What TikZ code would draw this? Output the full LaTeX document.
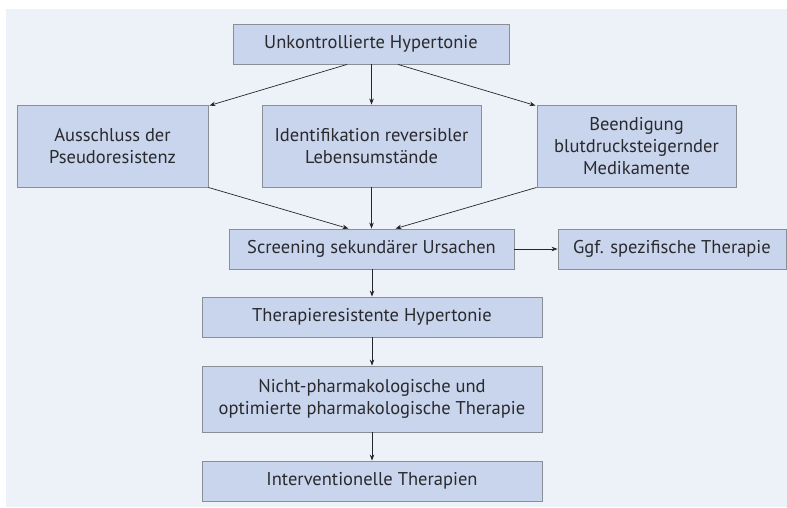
\documentclass[tikz,border=0pt]{standalone}
\usepackage{fontspec}
\setmainfont{PT Sans}
\usetikzlibrary{arrows.meta}
\definecolor{panel}{HTML}{EDF2F9}
\definecolor{boxfill}{HTML}{C8D5EC}
\definecolor{boxline}{HTML}{8A8E96}
\definecolor{txt}{HTML}{2A2A2E}
\begin{document}
\begin{tikzpicture}[x=1pt,y=-1pt,
  box/.style={draw=boxline,line width=0.9pt,fill=boxfill,inner sep=0pt,align=center,
    text=txt,font=\fontsize{18.5}{22}\selectfont},
  arr/.style={draw=black!85,line width=0.7pt,-{Stealth[length=6pt,width=4.5pt]}}]
\useasboundingbox (0,0) rectangle (787,507);
\fill[panel] (6,9) rectangle (787,507);
\node[box,minimum width=276pt,minimum height=40pt] (top) at (371,44) {Unkontrollierte Hypertonie};
\node[box,minimum width=191pt,minimum height=82pt] (aus) at (112.5,146) {Ausschluss der\\Pseudoresistenz};
\node[box,minimum width=219pt,minimum height=82pt] (ide) at (371.5,146) {Identifikation reversibler\\Lebensumstände};
\node[box,minimum width=199pt,minimum height=82pt] (bee) at (636.5,146) {Beendigung\\blutdrucksteigernder\\Medikamente};
\node[box,minimum width=285pt,minimum height=40pt] (scr) at (371.5,249) {Screening sekundärer Ursachen};
\node[box,minimum width=228pt,minimum height=40pt] (ggf) at (672,249) {Ggf. spezifische Therapie};
\node[box,minimum width=340pt,minimum height=40pt] (tre) at (372,317) {Therapieresistente Hypertonie};
\node[box,minimum width=340pt,minimum height=66pt] (nph) at (372,399) {Nicht-pharmakologische und\\optimierte pharmakologische Therapie};
\node[box,minimum width=340pt,minimum height=40pt] (int) at (372,481) {Interventionelle Therapien};
\draw[arr] ([xshift=-24pt]top.south) -- ([xshift=1pt,yshift=-1pt]aus.north east);
\draw[arr] (top.south -| ide.north) -- (ide.north);
\draw[arr] ([xshift=27pt]top.south) -- ([xshift=-1pt,yshift=-1pt]bee.north west);
\draw[arr] (aus.south east) -- ([xshift=-23pt]scr.north);
\draw[arr] (ide.south) -- (ide.south |- scr.north);
\draw[arr] (bee.south west) -- ([xshift=24pt]scr.north);
\draw[arr] (scr.east) -- (ggf.west);
\draw[arr] (scr.south -| tre.north) -- (tre.north);
\draw[arr] (tre.south) -- (nph.north);
\draw[arr] (nph.south) -- (int.north);
\end{tikzpicture}
\end{document}
